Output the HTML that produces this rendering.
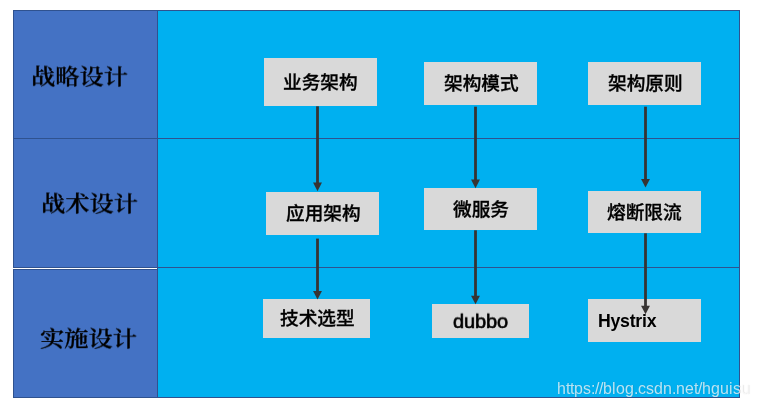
<!DOCTYPE html>
<html lang="zh-CN">
<head>
<meta charset="utf-8">
<title>架构设计</title>
<style>
html,body{margin:0;padding:0;background:#fff;}
body{width:759px;height:407px;position:relative;overflow:hidden;font-family:"Liberation Sans","Noto Sans CJK SC",sans-serif;}
.abs{position:absolute;box-sizing:border-box;}
.left{background:#4472c4;border:1px solid #2f528f;}
.right{background:#00b0f0;border:1px solid #2f528f;}
.lbl{will-change:transform;position:absolute;transform:scale(1.01,0.90);transform-origin:0 100%;font-family:"Liberation Serif","Noto Serif CJK SC",serif;font-weight:600;-webkit-text-stroke:0.25px #000;font-size:24px;line-height:24px;color:#000;white-space:nowrap;}
.box{position:absolute;background:#d9d9d9;}
.t{will-change:transform;position:absolute;font-family:"Liberation Sans","Noto Sans CJK SC",sans-serif;font-weight:500;font-size:18.67px;line-height:20px;color:#000;-webkit-text-stroke:0.3px #000;white-space:nowrap;}
.lat{font-weight:400;font-size:20px;line-height:22px;-webkit-text-stroke:0.4px #000;}
svg.ar{position:absolute;left:0;top:0;z-index:5;}
.wmt{font-family:"Liberation Sans",sans-serif;font-size:16px;fill:rgba(255,255,255,0.72);text-shadow:0.5px 0.5px 1px rgba(0,0,0,0.22);}
</style>
</head>
<body>
<div class="abs left" style="left:13px;top:10px;width:145px;height:129px;"></div>
<div class="abs left" style="left:13px;top:138px;width:145px;height:130px;"></div>
<div class="abs left" style="left:13px;top:269px;width:145px;height:129px;"></div>
<div class="abs right" style="left:157px;top:10px;width:583px;height:129px;"></div>
<div class="abs right" style="left:157px;top:138px;width:583px;height:130px;"></div>
<div class="abs right" style="left:157px;top:267px;width:583px;height:131px;"></div>

<div class="lbl" style="left:30.6px;top:64px;">战略设计</div>
<div class="lbl" style="left:40.5px;top:191.4px;">战术设计</div>
<div class="lbl" style="left:39.7px;top:326px;">实施设计</div>

<div class="box" style="left:264px;top:58px;width:113px;height:48px;"></div>
<div class="box" style="left:424px;top:62px;width:113px;height:43px;"></div>
<div class="box" style="left:588px;top:62px;width:113px;height:43px;"></div>
<div class="box" style="left:266px;top:192px;width:113px;height:43px;"></div>
<div class="box" style="left:424px;top:188px;width:113px;height:42px;"></div>
<div class="box" style="left:588px;top:191px;width:113px;height:42px;"></div>
<div class="box" style="left:263px;top:299px;width:107px;height:39px;"></div>
<div class="box" style="left:432px;top:304px;width:97px;height:34px;"></div>
<div class="box" style="left:588px;top:299px;width:113px;height:43px;"></div>

<div class="t" style="left:283px;top:73px;">业务架构</div>
<div class="t" style="left:443.5px;top:74px;">架构模式</div>
<div class="t" style="left:607.5px;top:74px;">架构原则</div>
<div class="t" style="left:285.6px;top:204.3px;">应用架构</div>
<div class="t" style="left:453px;top:200px;">微服务</div>
<div class="t" style="left:607.4px;top:203px;">熔断限流</div>
<div class="t" style="left:279.5px;top:309px;">技术选型</div>
<div class="t lat" style="left:453px;top:309.5px;font-size:20px;letter-spacing:-0.1px;-webkit-text-stroke-width:0.7px;transform:scaleY(0.96);transform-origin:0 80%;">dubbo</div>
<div class="t lat" style="left:598.4px;top:310px;font-weight:700;font-size:17.7px;-webkit-text-stroke-width:0;letter-spacing:-0.25px;">Hystrix</div>

<svg class="ar" width="759" height="407" viewBox="0 0 759 407">
  <g fill="#373332" stroke="none">
    <rect x="316.1" y="106.3" width="2.8" height="76.8"/><polygon points="313.05,182.6 321.95,182.6 317.5,191.2"/>
    <rect x="474.1" y="106.7" width="2.8" height="73.4"/><polygon points="471.05,179.6 479.95,179.6 475.5,188.2"/>
    <rect x="644.1" y="106.7" width="2.8" height="72.7"/><polygon points="641.05,178.9 649.95,178.9 645.5,187.5"/>
    <rect x="316.1" y="238.6" width="2.8" height="52.8"/><polygon points="313.05,290.9 321.95,290.9 317.5,299.5"/>
    <rect x="474.1" y="230.3" width="2.8" height="65.9"/><polygon points="471.05,295.7 479.95,295.7 475.5,304.3"/>
    <rect x="644.1" y="233.3" width="2.8" height="72.9"/><polygon points="641.05,305.7 649.95,305.7 645.5,314.3"/>
  </g>
</svg>

<svg class="ar" width="759" height="407" viewBox="0 0 759 407"><text class="wmt" x="557 566 570 574 583 591 595 599 603 612 616 625 634 638 646 654 663 672 676 685 694 698 702 711 720 729 733 741" y="393.5">https://blog.csdn.net/hguisu</text></svg>
</body>
</html>
